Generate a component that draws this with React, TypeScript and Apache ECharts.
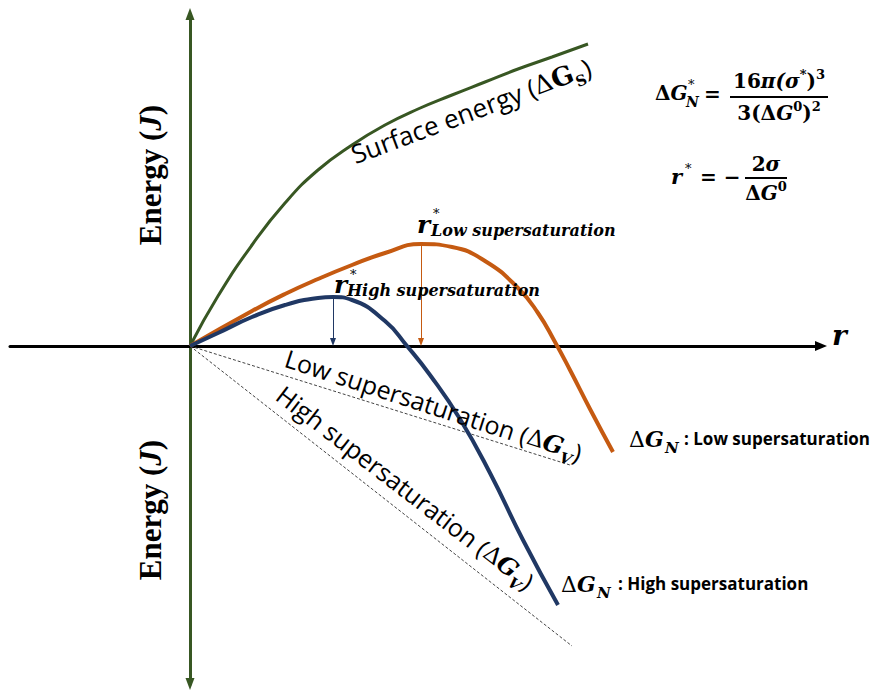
import React, { useEffect, useRef } from "react";
import * as echarts from "echarts";

// ---- data (r in px-like units from origin, energy upward positive) ----
const surfaceR = [0, 28, 62, 95, 128, 162, 195, 228, 262, 295, 328, 362, 398];
const surfaceE = [0, 50, 101, 143, 176, 201, 221, 237, 251, 264, 277, 289, 302];

const lowNR = [0, 62, 95, 128, 162, 195, 231, 262, 295, 328, 348, 365, 380, 400, 423];
const lowNE = [0, 35, 52, 67, 81, 93, 102, 99, 85, 58, 33, 4, -24, -63, -106];

const highNR = [0, 28, 62, 95, 128, 143, 162, 195, 217, 240, 270, 300, 333, 368];
const highNE = [0, 13, 29, 41, 48, 49, 46, 25, 0, -29, -73, -127, -194, -259];

const lowGvR = [0, 380];
const lowGvE = [0, -119];
const highGvR = [0, 382];
const highGvE = [0, -300];

const rStarLow = 231;
const gStarLow = 100;
const rStarHigh = 143;
const gStarHigh = 47;

const GREEN = "#385723";
const ORANGE = "#c55a11";
const BLUE = "#203864";

const SANS = "'Open Sans', 'Liberation Sans', sans-serif";
const MATH = "'DejaVu Serif', serif";
const TIMES = "'Liberation Serif', 'Times New Roman', Tinos, 'DejaVu Serif', serif";

const pairs = (xs: number[], ys: number[]) => xs.map((x, i) => [x, ys[i]]);

const txt = (x: number, y: number, text: string, style: any, rotation = 0) => ({
  type: "text",
  x,
  y,
  rotation,
  z: 10,
  style: { text, fill: "#000", ...style },
});

const mathRich = (size: number) => ({
  b: { fontFamily: MATH, fontSize: size, fontWeight: "bold", lineHeight: 26 },
  bi: { fontFamily: MATH, fontSize: size, fontWeight: "bold", fontStyle: "italic", lineHeight: 26 },
  d: { fontFamily: MATH, fontSize: size, fontWeight: "bold", lineHeight: 26 },
  sup: { fontFamily: MATH, fontSize: 13, fontWeight: "bold", lineHeight: 13, verticalAlign: "top" },
});

const rotRich = (gItalic: boolean, size: number, gSize: number) => ({
  t: { fontFamily: SANS, fontSize: size, lineHeight: 36 },
  d: { fontFamily: MATH, fontSize: gSize - 1, lineHeight: 36 },
  g: { fontFamily: MATH, fontSize: gSize, fontWeight: "bold", fontStyle: gItalic ? "italic" : "normal", lineHeight: 36 },
  s: { fontFamily: MATH, fontSize: 15, fontWeight: "bold", fontStyle: gItalic ? "italic" : "normal", lineHeight: 20, verticalAlign: "bottom" },
});

const curveLine = (data: number[][], color: string, width: number) => ({
  type: "line",
  data,
  smooth: 0.5,
  smoothMonotone: "none",
  showSymbol: false,
  lineStyle: { color, width },
  z: 3,
});

export default function App() {
  const ref = useRef<HTMLDivElement>(null);
  useEffect(() => {
    const chart = echarts.init(ref.current!, null, { renderer: "svg" });
    const energyRich = {
      b: { fontFamily: TIMES, fontSize: 31, fontWeight: "bold" },
      i: { fontFamily: TIMES, fontSize: 31, fontWeight: "bold", fontStyle: "italic" },
    };
    const option: any = {
      animation: false,
      backgroundColor: "#fff",
      grid: { left: 10, right: 55, top: 14, bottom: 7 },
      xAxis: {
        type: "value",
        min: -180,
        max: 631,
        axisLine: {
          show: true,
          onZero: true,
          symbol: ["none", "triangle"],
          symbolSize: [10, 12],
          lineStyle: { color: "#000", width: 3 },
        },
        axisTick: { show: false },
        axisLabel: { show: false },
        splitLine: { show: false },
      },
      yAxis: {
        type: "value",
        min: -338,
        max: 332,
        axisLine: {
          show: true,
          onZero: true,
          symbol: ["triangle", "triangle"],
          symbolSize: [9, 12],
          lineStyle: { color: GREEN, width: 3 },
        },
        axisTick: { show: false },
        axisLabel: { show: false },
        splitLine: { show: false },
      },
      series: [
        curveLine(pairs(surfaceR, surfaceE), GREEN, 3),
        {
          ...curveLine(pairs(lowNR, lowNE), ORANGE, 4),
          markLine: {
            silent: true,
            symbol: ["none", "triangle"],
            symbolSize: [6, 8],
            label: { show: false },
            lineStyle: { color: ORANGE, width: 1, type: "solid" },
            data: [[{ coord: [rStarLow, gStarLow] }, { coord: [rStarLow, 4] }]],
          },
        },
        {
          ...curveLine(pairs(highNR, highNE), BLUE, 4),
          markLine: {
            silent: true,
            symbol: ["none", "triangle"],
            symbolSize: [6, 8],
            label: { show: false },
            lineStyle: { color: BLUE, width: 1, type: "solid" },
            data: [[{ coord: [rStarHigh, gStarHigh] }, { coord: [rStarHigh, 4] }]],
          },
        },
        {
          type: "line",
          data: pairs(lowGvR, lowGvE),
          showSymbol: false,
          lineStyle: { color: "#444", width: 1, type: [3, 2] },
          z: 2,
        },
        {
          type: "line",
          data: pairs(highGvR, highGvE),
          showSymbol: false,
          lineStyle: { color: "#444", width: 1, type: [3, 2] },
          z: 2,
        },
      ],
      graphic: [
        // axis titles
        txt(150, 175, "{b|Energy (}{i|J}{b|)}", { align: "center", verticalAlign: "middle", rich: energyRich }, Math.PI / 2),
        txt(150, 510, "{b|Energy (}{i|J}{b|)}", { align: "center", verticalAlign: "middle", rich: energyRich }, Math.PI / 2),
        txt(832, 335, "r", { fontFamily: MATH, fontSize: 28, fontWeight: "bold", fontStyle: "italic", align: "left", verticalAlign: "middle" }),
        // rotated labels
        txt(352, 155, "{t|Surface energy (}{d|Δ}{g|G}{s|S}{t|)}", { align: "left", verticalAlign: "middle", rich: rotRich(false, 26, 26) }, (20.5 * Math.PI) / 180),
        txt(286, 357, "{t|Low supersaturation (}{d|Δ}{g|G}{s|V}{t|)}", { align: "left", verticalAlign: "middle", rich: rotRich(true, 25, 24) }, (-18 * Math.PI) / 180),
        txt(280, 391, "{t|High supersaturation (}{d|Δ}{g|G}{s|V}{t|)}", { align: "left", verticalAlign: "middle", rich: rotRich(true, 25, 24) }, (-37.5 * Math.PI) / 180),
        // r* labels
        txt(417, 224, "r", { fontFamily: MATH, fontSize: 25, fontWeight: "bold", fontStyle: "italic", align: "left", verticalAlign: "middle" }),
        txt(433, 213, "*", { fontFamily: MATH, fontSize: 13, align: "left", verticalAlign: "middle" }),
        txt(431, 230, "Low supersaturation", { fontFamily: MATH, fontSize: 16, fontWeight: "bold", fontStyle: "italic", align: "left", verticalAlign: "middle" }),
        txt(334, 284, "r", { fontFamily: MATH, fontSize: 25, fontWeight: "bold", fontStyle: "italic", align: "left", verticalAlign: "middle" }),
        txt(350, 274, "*", { fontFamily: MATH, fontSize: 13, align: "left", verticalAlign: "middle" }),
        txt(347, 290, "High supersaturation", { fontFamily: MATH, fontSize: 16, fontWeight: "bold", fontStyle: "italic", align: "left", verticalAlign: "middle" }),
        // ΔG_N labels
        txt(629, 439, "{d|Δ}{g|G}", {
          align: "left",
          verticalAlign: "middle",
          rich: {
            d: { fontFamily: MATH, fontSize: 22 },
            g: { fontFamily: MATH, fontSize: 22, fontWeight: "bold", fontStyle: "italic" },
          },
        }),
        txt(665, 448, "N", { fontFamily: MATH, fontSize: 15, fontWeight: "bold", fontStyle: "italic", align: "left", verticalAlign: "middle" }),
        txt(684, 438, ": Low supersaturation", { fontFamily: SANS, fontSize: 17, fontWeight: "bold", align: "left", verticalAlign: "middle" }),
        txt(561, 584, "{d|Δ}{g|G}", {
          align: "left",
          verticalAlign: "middle",
          rich: {
            d: { fontFamily: MATH, fontSize: 22 },
            g: { fontFamily: MATH, fontSize: 22, fontWeight: "bold", fontStyle: "italic" },
          },
        }),
        txt(597, 593, "N", { fontFamily: MATH, fontSize: 15, fontWeight: "bold", fontStyle: "italic", align: "left", verticalAlign: "middle" }),
        txt(618, 583, ": High supersaturation", { fontFamily: SANS, fontSize: 17, fontWeight: "bold", align: "left", verticalAlign: "middle" }),
        // formula 1
        txt(655, 93, "{d|Δ}{bi|G}", { align: "left", verticalAlign: "middle", rich: mathRich(20) }),
        txt(688, 84, "*", { fontFamily: MATH, fontSize: 13, align: "left", verticalAlign: "middle" }),
        txt(686, 102, "N", { fontFamily: MATH, fontSize: 14, fontWeight: "bold", fontStyle: "italic", align: "left", verticalAlign: "middle" }),
        txt(704, 94, "=", { fontFamily: MATH, fontSize: 20, fontWeight: "bold", align: "left", verticalAlign: "middle" }),
        txt(779, 81, "{b|16}{bi|π(σ}{sup|*}{b|)}{sup|3}", { align: "center", verticalAlign: "middle", rich: mathRich(20) }),
        { type: "line", z: 10, shape: { x1: 730, y1: 97, x2: 828, y2: 97 }, style: { stroke: "#000", lineWidth: 2 } },
        txt(779, 113, "{b|3(}{d|Δ}{bi|G}{sup|0}{b|)}{sup|2}", { align: "center", verticalAlign: "middle", rich: mathRich(20) }),
        // formula 2
        txt(671, 176, "r", { fontFamily: MATH, fontSize: 21, fontWeight: "bold", fontStyle: "italic", align: "left", verticalAlign: "middle" }),
        txt(685, 168, "*", { fontFamily: MATH, fontSize: 13, align: "left", verticalAlign: "middle" }),
        txt(700, 177, "= −", { fontFamily: MATH, fontSize: 20, fontWeight: "bold", align: "left", verticalAlign: "middle" }),
        { type: "line", z: 10, shape: { x1: 745, y1: 178, x2: 787, y2: 178 }, style: { stroke: "#000", lineWidth: 2 } },
        txt(766, 164, "{b|2}{bi|σ}", { align: "center", verticalAlign: "middle", rich: mathRich(20) }),
        txt(766, 193, "{d|Δ}{bi|G}{sup|0}", { align: "center", verticalAlign: "middle", rich: mathRich(20) }),
      ],
    };
    chart.setOption(option);
    return () => chart.dispose();
  }, []);
  return (
    <div
      ref={ref}
      style={{ position: "fixed", left: 0, top: 0, width: 876, height: 691, background: "#fff" }}
    />
  );
}
